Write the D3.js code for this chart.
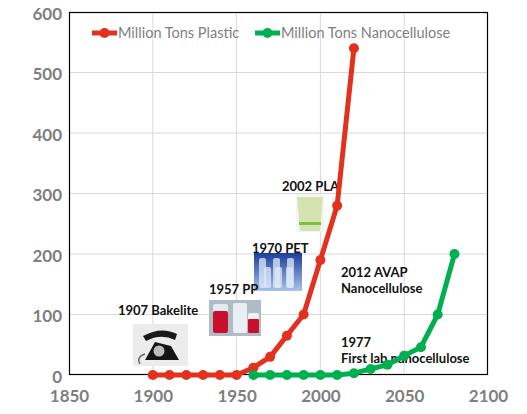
<!DOCTYPE html>
<html><head><meta charset="utf-8">
<script src="https://cdn.jsdelivr.net/npm/d3@7/dist/d3.min.js"></script>
<style>body{margin:0;background:#fff}svg{display:block}</style>
</head><body>
<svg id="chart" width="527" height="414"></svg>
<script>
// ---- data ----
const plasticYears = [1900,1910,1920,1930,1940,1950,1960,1970,1980,1990,2000,2010,2020];
const plasticValues = [0,0,0,0,0,0,12,30,65,100,190,280,540];
const nanoYears = [1960,1970,1980,1990,2000,2010,2020,2030,2040,2050,2060,2070,2080];
const nanoValues = [0,0,0,0,0,0,3,10,17,32,46,100,200];
const xTicks = [1850,1900,1950,2000,2050,2100];
const yTicks = [0,100,200,300,400,500,600];
const seriesNames = ["Million Tons Plastic","Million Tons Nanocellulose"];
const annotationTexts = [["1907 Bakelite"],["1957 PP"],["1970 PET"],["2002 PLA"],["2012 AVAP","Nanocellulose"],["1977","First lab nanocellulose"]];

// ---- layout ----
const W=527,H=414, m={l:69,r:39,t:12,b:39};
const RED="#e2311f", GREEN="#00b050", GRAY="#7f7f7f";
const svg=d3.select("#chart");
const x=d3.scaleLinear().domain([1850,2100]).range([m.l,W-m.r]);
const y=d3.scaleLinear().domain([0,600]).range([H-m.b,m.t]);

// grid
svg.append("g").selectAll("line").data(xTicks.slice(1,-1)).join("line")
  .attr("x1",d=>x(d)).attr("x2",d=>x(d)).attr("y1",y(0)).attr("y2",y(600))
  .attr("stroke","#d9d9d9").attr("stroke-width",1);
svg.append("g").selectAll("line").data(yTicks.slice(1,-1)).join("line")
  .attr("y1",d=>y(d)).attr("y2",d=>y(d)).attr("x1",x(1850)).attr("x2",x(2100))
  .attr("stroke","#d9d9d9").attr("stroke-width",1);
svg.append("rect").attr("x",x(1850)+0.5).attr("y",y(600)+0.5)
  .attr("width",x(2100)-x(1850)-1).attr("height",y(0)-y(600)-1)
  .attr("fill","none").attr("stroke","#000").attr("stroke-width",1.2);

// axes
const xAxis=svg.append("g").attr("transform",`translate(0,${y(0)+2})`)
  .call(d3.axisBottom(x).tickValues(xTicks).tickFormat(d3.format("d")).tickSize(0).tickPadding(13));
const yAxis=svg.append("g").attr("transform",`translate(${x(1850)-7},2)`)
  .call(d3.axisLeft(y).tickValues(yTicks).tickSize(0).tickPadding(0));
[xAxis,yAxis].forEach(a=>{a.select(".domain").remove();
  a.selectAll("text").attr("font-family","Lato").attr("font-weight","bold")
   .attr("font-size","17px").attr("fill",GRAY);});

// images (simplified drawings)
const img=svg.append("g");
// telephone
const tp={x:133,y:324,w:55,h:42};
img.append("rect").attr("x",tp.x).attr("y",tp.y).attr("width",tp.w).attr("height",tp.h).attr("fill","#ececec");
img.append("path").attr("d",`M${tp.x+12},${tp.y+36} L${tp.x+46},${tp.y+36} L${tp.x+38},${tp.y+22} L${tp.x+22},${tp.y+18} Z`).attr("fill","#151515");
img.append("path").attr("d",`M${tp.x+10},${tp.y+12} Q${tp.x+28},${tp.y+2} ${tp.x+44},${tp.y+10} L${tp.x+42},${tp.y+16} Q${tp.x+28},${tp.y+9} ${tp.x+13},${tp.y+17} Z`).attr("fill","#1a1a1a");
img.append("circle").attr("cx",tp.x+26).attr("cy",tp.y+27).attr("r",5.5).attr("fill","#bdbdbd");
img.append("path").attr("d",`M${tp.x+12},${tp.y+30} Q${tp.x+3},${tp.y+33} ${tp.x+7},${tp.y+40}`).attr("fill","none").attr("stroke","#666").attr("stroke-width",1.5);
// PP bottles
const pp={x:209,y:300,w:52,h:36};
img.append("rect").attr("x",pp.x).attr("y",pp.y).attr("width",pp.w).attr("height",pp.h).attr("fill","#aebdc5");
img.append("rect").attr("x",pp.x+4).attr("y",pp.y+4).attr("width",15).attr("height",29).attr("rx",2).attr("fill","#e4eaee");
img.append("rect").attr("x",pp.x+4).attr("y",pp.y+11).attr("width",15).attr("height",22).attr("rx",2).attr("fill","#c8102e");
img.append("rect").attr("x",pp.x+24).attr("y",pp.y+3).attr("width",14).attr("height",30).attr("rx",2).attr("fill","#e8eef1");
img.append("rect").attr("x",pp.x+39).attr("y",pp.y+13).attr("width",11).attr("height",20).attr("rx",2).attr("fill","#eef2f4");
img.append("rect").attr("x",pp.x+39).attr("y",pp.y+19).attr("width",11).attr("height",14).attr("rx",1).attr("fill","#c8102e");
// PET bottles
const pet={x:254,y:253,w:48,h:38};
const pg=svg.append("defs").append("linearGradient").attr("id","petg").attr("x1",0).attr("y1",0).attr("x2",0).attr("y2",1);
pg.append("stop").attr("offset","0").attr("stop-color","#1c3c9c");
pg.append("stop").attr("offset","1").attr("stop-color","#a8c4e8");
img.append("rect").attr("x",pet.x).attr("y",pet.y).attr("width",pet.w).attr("height",pet.h).attr("fill","url(#petg)");
[[8,5],[22,5],[36,5],[13,14],[24,14],[35,14]].forEach(([dx,dy])=>{
  img.append("rect").attr("x",pet.x+dx-3).attr("y",pet.y+dy).attr("width",7).attr("height",pet.h-dy-3).attr("rx",2)
    .attr("fill","#dfe9f7").attr("opacity",0.75);
});
// PLA cup
const cup={x:296,y:194,w:28,h:38};
img.append("rect").attr("x",cup.x).attr("y",cup.y).attr("width",cup.w).attr("height",cup.h).attr("fill","#f4f6f0");
img.append("path").attr("d",`M${cup.x+1},${cup.y+3} L${cup.x+27},${cup.y+3} L${cup.x+24},${cup.y+37} L${cup.x+4},${cup.y+37} Z`).attr("fill","#d4e3b0");
img.append("rect").attr("x",cup.x+3).attr("y",cup.y+28).attr("width",22).attr("height",3).attr("fill","#7cc242");

// annotations
const annPos=[[118,315],[209,294],[252,253],[282,191],[341,277],[341,347]];
const ann=svg.append("g").attr("font-family","Lato").attr("font-weight","bold").attr("font-size","13px").attr("fill","#111");
annotationTexts.forEach((lines,i)=>{
  lines.forEach((t,j)=>ann.append("text").attr("x",annPos[i][0]).attr("y",annPos[i][1]+j*15.5).text(t));
});

// series
const line=d3.line().x(d=>x(d[0])).y(d=>y(d[1]));
function drawSeries(years,vals,color){
  const pts=years.map((yr,i)=>[yr,vals[i]]);
  const g=svg.append("g");
  g.append("path").datum(pts).attr("d",line).attr("fill","none").attr("stroke",color)
    .attr("stroke-width",5).attr("stroke-linejoin","round");
  g.selectAll("circle").data(pts).join("circle").attr("cx",d=>x(d[0])).attr("cy",d=>y(d[1]))
    .attr("r",5).attr("fill",color);
}
drawSeries(plasticYears,plasticValues,RED);
drawSeries(nanoYears,nanoValues,GREEN);

// legend
const leg=svg.append("g").attr("font-family","Lato").attr("font-size","14.5px").attr("fill",GRAY);
[[92,RED],[255,GREEN]].forEach(([lx,c],i)=>{
  leg.append("line").attr("x1",lx).attr("x2",lx+25).attr("y1",33).attr("y2",33).attr("stroke",c).attr("stroke-width",5);
  leg.append("circle").attr("cx",lx+12.5).attr("cy",33).attr("r",5).attr("fill",c);
  leg.append("text").attr("x",lx+26).attr("y",38).text(seriesNames[i]);
});
</script>
</body></html>
